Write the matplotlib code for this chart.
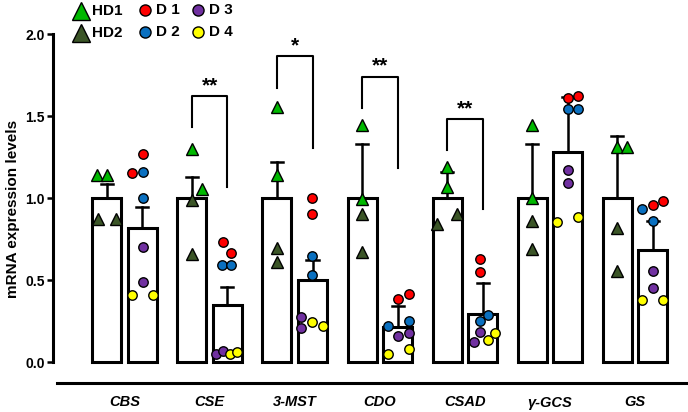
import numpy as np
import matplotlib
matplotlib.use("Agg")
import matplotlib.pyplot as plt

plt.rcParams['font.family'] = ['Liberation Sans', 'DejaVu Sans']

# data
genes = ['CBS', 'CSE', '3-MST', 'CDO', 'CSAD', 'γ-GCS', 'GS']

hd_mean = [1.0, 1.0, 1.0, 1.0, 1.0, 1.0, 1.0]
hd_err = [0.085, 0.13, 0.22, 0.33, 0.16, 0.33, 0.38]
d_mean = [0.82, 0.35, 0.50, 0.215, 0.29, 1.28, 0.685]
d_err = [0.125, 0.11, 0.12, 0.125, 0.19, 0.335, 0.175]

# individual points: HD1 (2), HD2 (2)
hd1_vals = [[1.14, 1.14], [1.30, 1.055], [1.555, 1.14], [1.445, 0.994],
            [1.19, 1.07], [1.445, 1.0], [1.31, 1.31]]
hd2_vals = [[0.87, 0.87], [0.99, 0.66], [0.695, 0.61], [0.90, 0.67],
            [0.84, 0.90], [0.86, 0.69], [0.82, 0.555]]
# D1..D4, two each
d1_vals = [[1.27, 1.15], [0.73, 0.665], [1.0, 0.90], [0.385, 0.415],
           [0.63, 0.55], [1.61, 1.62], [0.957, 0.98]]
d2_vals = [[1.16, 1.0], [0.59, 0.59], [0.645, 0.53], [0.22, 0.25],
           [0.25, 0.287], [1.54, 1.54], [0.93, 0.86]]
d3_vals = [[0.70, 0.49], [0.05, 0.067], [0.274, 0.21], [0.158, 0.177],
           [0.18, 0.12], [1.17, 1.09], [0.555, 0.45]]
d4_vals = [[0.41, 0.41], [0.05, 0.06], [0.244, 0.22], [0.049, 0.079],
           [0.134, 0.177], [0.855, 0.885], [0.378, 0.378]]

# jitter (in pixels) for each point pair
hd1_jit = [[-10, 0], [0, 10], [0, 0], [0, 0], [0, 0], [0, 0], [0, 10]]
hd2_jit = [[-9, 9], [0, 0], [0, 0], [0, 0], [-10, 10], [0, 0], [0, 0]]
d1_jit = [[1, -10], [-4, 4], [-1, -1], [0, 11], [-3, -3], [0, 10], [0, 10]]
d2_jit = [[1, 1], [-5, 4], [-1, -1], [-10, 11], [-3, 5], [0, 10], [-11, 0]]
d3_jit = [[1, 1], [-11, -4], [-11, -11], [0, 11], [-3, -9], [0, 0], [0, 0]]
d4_jit = [[-10, 11], [3, 10], [-1, 10], [-10, 11], [5, 12], [-11, 10], [-11, 10]]

# significance: gene index, label, left leg bottom, bracket top, right leg bottom
sig = [(1, '**', 1.43, 1.62, 1.067), (2, '*', 1.67, 1.866, 1.305),
       (3, '**', 1.55, 1.74, 1.18), (4, '**', 1.29, 1.48, 0.93)]

c_hd1 = '#00b800'
c_hd2 = '#3b5527'
c_d1 = '#ff0000'
c_d2 = '#0a70c0'
c_d3 = '#7030a0'
c_d4 = '#ffff00'

fig = plt.figure(figsize=(6.88, 4.12), dpi=100)
ax = fig.add_axes([53 / 688, (412 - 383) / 412, 635 / 688, (383 - 34) / 412])

px = 1 / 85.08  # one pixel in x data units
off = 17.75 * px
bw = 29 * px
x = np.arange(len(genes))

lw = 2.2
ax.bar(x - off, hd_mean, width=bw, color='white', edgecolor='black', linewidth=lw, zorder=2)
ax.bar(x + off, d_mean, width=bw, color='white', edgecolor='black', linewidth=lw, zorder=2)

for xs, m, e in [(x - off, hd_mean, hd_err), (x + off, d_mean, d_err)]:
    for xi, mi, ei in zip(xs, m, e):
        ax.plot([xi, xi], [mi, mi + ei], color='black', lw=1.8, zorder=1.5)
        ax.plot([xi - 6 * px, xi + 6 * px], [mi + ei, mi + ei], color='black', lw=1.8, zorder=1.5)


def draw_pts(vals, jit, side, color, marker, ms):
    for i in range(len(genes)):
        for v, j in zip(vals[i], jit[i]):
            ax.plot(x[i] + side + j * px, v, marker=marker, ms=ms, color=color,
                    mec='black', mew=1.0, ls='none', zorder=4, clip_on=False)


draw_pts(hd1_vals, hd1_jit, -off, c_hd1, '^', 8.5)
draw_pts(hd2_vals, hd2_jit, -off, c_hd2, '^', 8.5)
draw_pts(d1_vals, d1_jit, off, c_d1, 'o', 6.8)
draw_pts(d2_vals, d2_jit, off, c_d2, 'o', 6.8)
draw_pts(d3_vals, d3_jit, off, c_d3, 'o', 6.8)
draw_pts(d4_vals, d4_jit, off, c_d4, 'o', 6.8)

# significance brackets
for i, txt, yl, ytop, yr in sig:
    xl = x[i] - off
    xr = x[i] + off
    ax.plot([xl, xl, xr, xr], [yl, ytop, ytop, yr], color='black', lw=1.5, clip_on=False, zorder=3)
    ax.text((xl + xr) / 2, ytop + 0.005, txt, ha='center', va='bottom',
            fontsize=15, fontweight='bold')

ax.set_xlim(-0.84, 6.62)
ax.set_ylim(-0.128, 2.0)
ax.spines['top'].set_visible(False)
ax.spines['right'].set_visible(False)
ax.spines['left'].set_bounds(0, 2.0)
ax.spines['left'].set_linewidth(2.2)
ax.spines['bottom'].set_linewidth(2.2)
ax.spines['bottom'].set_bounds(-0.79, 6.62)
ax.set_yticks([0, 0.5, 1.0, 1.5, 2.0])
ax.set_yticklabels(['0.0', '0.5', '1.0', '1.5', '2.0'], fontweight='bold', fontsize=10)
ax.tick_params(axis='y', width=1.8, length=4, pad=2)
ax.set_xticks(x)
ax.set_xticklabels(genes, fontweight='bold', fontstyle='italic', fontsize=10.5)
ax.tick_params(axis='x', length=0, pad=9)
ax.set_ylabel('mRNA expression levels', fontweight='bold', fontsize=11, labelpad=4)

# legend built by hand above the plot
def leg(xp, yp, color, marker, ms, label):
    fig.lines.append(plt.Line2D([xp / 688], [1 - yp / 412], marker=marker, ms=ms, color=color,
                                mec='black', mew=1.0, ls='none', transform=fig.transFigure))
    fig.text((xp + 11) / 688, 1 - yp / 412, label, fontsize=11, fontweight='bold',
             va='center', ha='left')


leg(81, 11, c_hd1, '^', 12.5, 'HD1')
leg(81, 33, c_hd2, '^', 12.5, 'HD2')
leg(145, 10, c_d1, 'o', 8, 'D 1')
leg(145, 32, c_d2, 'o', 8, 'D 2')
leg(198, 10, c_d3, 'o', 8, 'D 3')
leg(198, 32, c_d4, 'o', 8, 'D 4')

fig.savefig('out.png', dpi=100)
